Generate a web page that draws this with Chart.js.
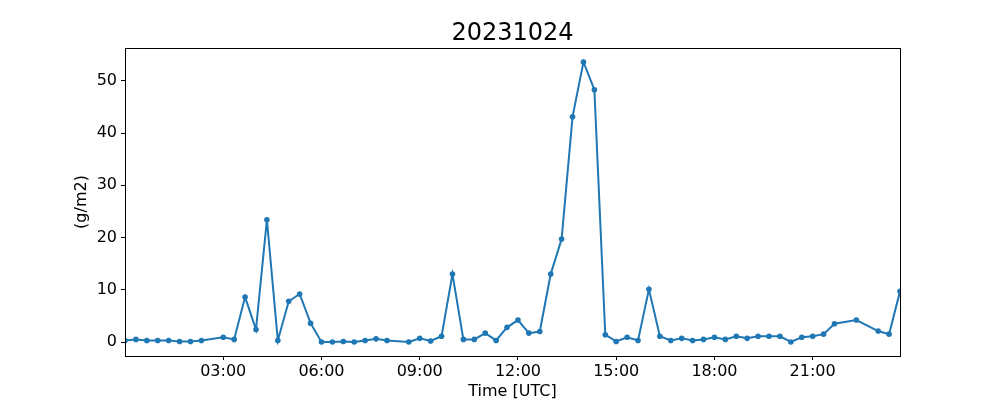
<!DOCTYPE html>
<html>
<head>
<meta charset="utf-8">
<script src="https://cdn.jsdelivr.net/npm/chart.js@4/dist/chart.umd.min.js"></script>
<style>
  body { margin: 0; background: #fff; }
  canvas { display: block; }
</style>
</head>
<body>
<canvas id="lineChart" width="1000" height="400"></canvas>
<script>
const chartTitle = "20231024";
const yLabel = "(g/m2)";
const xLabel = "Time [UTC]";

// observation times (UTC) and values
const obsTimes = [
  "00:00", "00:20", "00:40", "01:00", "01:20", "01:40", "02:00", "02:20",
  "03:00", "03:20", "03:40", "04:00", "04:20", "04:40", "05:00", "05:20", "05:40",
  "06:00", "06:20", "06:40", "07:00", "07:20", "07:40", "08:00",
  "08:40", "09:00", "09:20", "09:40", "10:00", "10:20", "10:40", "11:00", "11:20", "11:40",
  "12:00", "12:20", "12:40", "13:00", "13:20", "13:40", "14:00", "14:20", "14:40",
  "15:00", "15:20", "15:40", "16:00", "16:20", "16:40", "17:00", "17:20", "17:40",
  "18:00", "18:20", "18:40", "19:00", "19:20", "19:40", "20:00", "20:20", "20:40",
  "21:00", "21:20", "21:40", "22:20", "23:00", "23:20", "23:40"
];
const obsValues = [
  0.3, 0.5, 0.3, 0.3, 0.3, 0.1, 0.1, 0.3,
  0.9, 0.5, 8.6, 2.4, 23.4, 0.3, 7.8, 9.2, 3.6,
  0.0, 0.0, 0.1, 0.0, 0.3, 0.6, 0.3,
  0.0, 0.7, 0.2, 1.1, 13.0, 0.5, 0.5, 1.7, 0.3, 2.8,
  4.2, 1.7, 2.0, 13.0, 19.7, 43.1, 53.6, 48.3, 1.4,
  0.1, 0.9, 0.3, 10.1, 1.1, 0.3, 0.7, 0.3, 0.5,
  0.9, 0.5, 1.1, 0.7, 1.1, 1.1, 1.1, 0.0, 0.9,
  1.1, 1.5, 3.5, 4.2, 2.1, 1.5, 9.7
];
const xTickLabels = ["03:00", "06:00", "09:00", "12:00", "15:00", "18:00", "21:00"];
const yTicks = [0, 10, 20, 30, 40, 50];

function toMinutes(s) {
  const parts = s.split(":");
  return parseInt(parts[0]) * 60 + parseInt(parts[1]);
}

function fmtMinutes(m) {
  const h = Math.floor(m / 60);
  const mm = Math.round(m % 60);
  return String(h).padStart(2, "0") + ":" + String(mm).padStart(2, "0");
}

const points = obsTimes.map((t, i) => ({ x: toMinutes(t), y: obsValues[i] }));
const xMin = points[0].x;
const xMax = points[points.length - 1].x;
const vMax = Math.max(...obsValues);
const vMin = Math.min(...obsValues);
const yPad = (vMax - vMin) * 0.05;

const fontFamily = "'DejaVu Sans', sans-serif";

// title, axis labels and the frame round the plot
const textPlugin = {
  id: "textPlugin",
  afterDraw(chart) {
    const ctx = chart.ctx;
    const area = chart.chartArea;
    const cx = (area.left + area.right) / 2;
    ctx.save();
    ctx.strokeStyle = "#000";
    ctx.lineWidth = 1;
    ctx.strokeRect(area.left + 0.5, area.top + 0.5, area.right - area.left, area.bottom - area.top);

    ctx.fillStyle = "#000";
    ctx.textAlign = "center";
    ctx.textBaseline = "alphabetic";
    ctx.font = "24px " + fontFamily;
    ctx.fillText(chartTitle, cx, 40);

    ctx.font = "16px " + fontFamily;
    ctx.fillText(xLabel, cx, 396);

    ctx.translate(86, (area.top + area.bottom) / 2);
    ctx.rotate(-Math.PI / 2);
    ctx.fillText(yLabel, 0, 0);
    ctx.restore();
  }
};

document.addEventListener("DOMContentLoaded", function () {
  const canvas = document.getElementById("lineChart");
  const ctx = canvas.getContext("2d");

  new Chart(ctx, {
    type: "line",
    data: {
      datasets: [{
        data: points,
        borderColor: "#1f77b4",
        backgroundColor: "#1f77b4",
        borderWidth: 2,
        pointRadius: 2.8,
        pointBorderWidth: 0,
        pointBackgroundColor: "#1f77b4",
        tension: 0,
        fill: false
      }]
    },
    options: {
      responsive: false,
      animation: false,
      devicePixelRatio: 1,
      layout: { padding: { top: 48, right: 100, left: 0, bottom: 0 } },
      plugins: {
        legend: { display: false },
        tooltip: { enabled: false },
        title: { display: false }
      },
      scales: {
        x: {
          type: "linear",
          min: xMin,
          max: xMax,
          afterBuildTicks: function (scale) {
            scale.ticks = xTickLabels.map(t => ({ value: toMinutes(t) }));
          },
          afterFit: function (scale) { scale.height = 44; },
          ticks: {
            color: "#000",
            font: { family: fontFamily, size: 16 },
            padding: 2,
            maxRotation: 0,
            autoSkip: false,
            callback: function (v) { return fmtMinutes(v); }
          },
          grid: { drawOnChartArea: false, drawTicks: true, tickLength: 4, color: "#000" },
          border: { color: "#000", width: 1 }
        },
        y: {
          min: vMin - yPad,
          max: vMax + yPad,
          afterBuildTicks: function (scale) {
            scale.ticks = yTicks.map(v => ({ value: v }));
          },
          afterFit: function (scale) { scale.width = 125; },
          ticks: {
            color: "#000",
            font: { family: fontFamily, size: 16 },
            padding: 4,
            autoSkip: false
          },
          grid: { drawOnChartArea: false, drawTicks: true, tickLength: 4, color: "#000" },
          border: { color: "#000", width: 1 }
        }
      }
    },
    plugins: [textPlugin]
  });
});
</script>
</body>
</html>
